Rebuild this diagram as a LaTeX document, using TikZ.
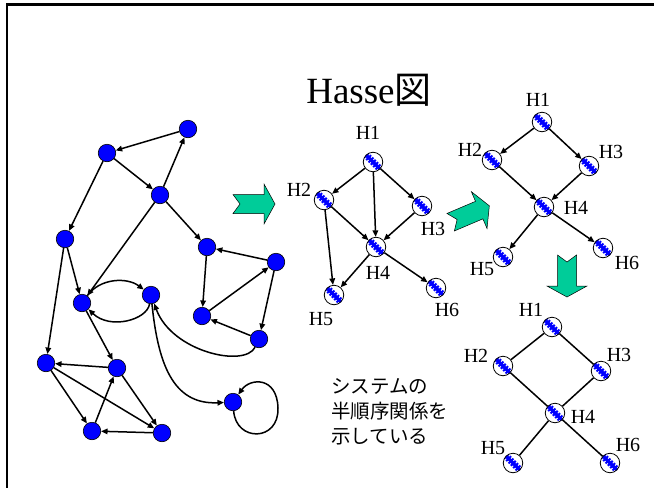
\documentclass[tikz,border=0pt]{standalone}
\usepackage{fontspec}
\setmainfont{Liberation Serif}
\newfontfamily\jpfont{Noto Sans CJK JP}
\usetikzlibrary{arrows.meta}

\definecolor{arrowgreen}{RGB}{0,204,153}

\tikzset{
  dot/.style={circle, draw=black, line width=0.6pt, fill=blue,
    minimum size=17.5pt, inner sep=0pt},
  hnode/.style={circle, draw=black, line width=0.8pt, fill=white,
    minimum size=19.5pt, inner sep=0pt,
    path picture={
      \draw[blue, line width=3.5pt]
        (path picture bounding box.north west) -- (path picture bounding box.south east);
      \draw[blue, line width=7pt, dash pattern=on 2pt off 1.3pt]
        (path picture bounding box.north west) -- (path picture bounding box.south east);
    }},
  link/.style={line width=1.5pt, -{Triangle[length=6.5pt,width=5.5pt]}},
  plain/.style={line width=1.5pt},
  hlabel/.style={font=\fontsize{20}{20}\selectfont, inner sep=0pt},
  greenarrow/.style={fill=arrowgreen, draw=black, line width=0.5pt},
  frame/.style={line width=2.5pt},
  pics/bigarrow/.style={code={
    \draw[greenarrow] (-21,-9.5) -- (10,-9.5) -- (10,-20) -- (21,0)
      -- (10,20) -- (10,9.5) -- (-21,9.5) -- (-14,0) -- cycle;
  }}
}

\begin{document}
\begin{tikzpicture}[x=1pt, y=-1pt]
\useasboundingbox (0,0) rectangle (654,488);

% frame along the top and left edges
\coordinate (ftl) at (7,4.7);
\coordinate (ftr) at (654,4.7);
\coordinate (fbl) at (7,488);
\draw[frame] (ftr) -- (ftl) -- (fbl);

% title
\node[font=\fontsize{37}{40}\selectfont, inner sep=0pt] (title) at (369,90)
  {Hasse{\jpfont 図}};

% ---- system graph ----
\node[dot] (a) at (188,129) {};
\node[dot] (b) at (107,153) {};
\node[dot] (c) at (160,195) {};
\node[dot] (d) at (65,239) {};
\node[dot] (e) at (207,247) {};
\node[dot] (f) at (276,262) {};
\node[dot] (g) at (82,303) {};
\node[dot] (h) at (151,295) {};
\node[dot] (i) at (202,316) {};
\node[dot] (j) at (259,339) {};
\node[dot] (k) at (46,363) {};
\node[dot] (l) at (117,368) {};
\node[dot] (m) at (233,402) {};
\node[dot] (n) at (92,431) {};
\node[dot] (o) at (162,433) {};

\draw[link] (a) -- (b);
\draw[link] (c) -- (a);
\draw[link] (b) -- (c);
\draw[link] (b) -- (d);
\draw[link] (c) -- (g);
\draw[link] (c) -- (e);
\draw[link] (f) -- (e);
\draw[link] (e) -- (i);
\draw[link] (i) -- (f);
\draw[link] (f) -- (j);
\draw[link] (j) -- (i);
\draw[link] (d) -- (g);
\draw[link] (d) -- (k);
\draw[link] (g) -- (l);
\draw[link] (l) -- (k);
\draw[link] (k) -- (n);
\draw[link] (k) -- (o);
\draw[link] (n) -- (l);
\draw[link] (l) -- (o);
\draw[link] (o) -- (n);
\draw[link] (g) .. controls (100,278) and (127,277) .. (h);
\draw[link] (h) .. controls (147,320) and (110,330) .. (g);
\draw[link] (j) .. controls (245,368) and (172,352) .. (h);
\draw[link] (h) .. controls (158,362) and (172,405) .. (m);
\coordinate (loopr) at (278,408);
\draw[link] (m) .. controls (236,442) and (279,442) .. (loopr)
  .. controls (277,376) and (250,378) .. (m);

% ---- green arrows ----
\pic at (254,204) {bigarrow};
\pic[rotate=23] at (470,214) {bigarrow};
\pic[rotate=-90] at (567,276) {bigarrow};

% ---- Hasse diagram with all relations ----
\node[hnode] (p1) at (373,162) {};
\node[hnode] (p2) at (324,200) {};
\node[hnode] (p3) at (422,206) {};
\node[hnode] (p4) at (376,247) {};
\node[hnode] (p5) at (334,295) {};
\node[hnode] (p6) at (436,288) {};
\node[hlabel] (lp1) at (368,133) {H1};
\node[hlabel] (lp2) at (299,190) {H2};
\node[hlabel] (lp3) at (433,229) {H3};
\node[hlabel] (lp4) at (378,273) {H4};
\node[hlabel] (lp5) at (321,319) {H5};
\node[hlabel] (lp6) at (447,310) {H6};
\draw[link] (p1) -- (p2);
\draw[link] (p1) -- (p3);
\draw[link] (p1) -- (p4);
\draw[link] (p2) -- (p4);
\draw[link] (p3) -- (p4);
\draw[link] (p2) -- (p5);
\draw[link] (p4) -- (p5);
\draw[link] (p4) -- (p6);

% ---- reduced diagram ----
\node[hnode] (q1) at (542,122) {};
\node[hnode] (q2) at (492,160) {};
\node[hnode] (q3) at (589,166) {};
\node[hnode] (q4) at (544,207) {};
\node[hnode] (q5) at (503,257) {};
\node[hnode] (q6) at (603,248) {};
\node[hlabel] (lq1) at (538,100) {H1};
\node[hlabel] (lq2) at (470,150) {H2};
\node[hlabel] (lq3) at (611,152) {H3};
\node[hlabel] (lq4) at (576,208) {H4};
\node[hlabel] (lq5) at (482,269) {H5};
\node[hlabel] (lq6) at (627,263) {H6};
\draw[link] (q1) -- (q2);
\draw[link] (q1) -- (q3);
\draw[link] (q2) -- (q4);
\draw[link] (q3) -- (q4);
\draw[link] (q4) -- (q5);
\draw[link] (q4) -- (q6);

% ---- undirected diagram ----
\node[hnode] (r1) at (552,327) {};
\node[hnode] (r2) at (503,366) {};
\node[hnode] (r3) at (601,371) {};
\node[hnode] (r4) at (555,413) {};
\node[hnode] (r5) at (513,463) {};
\node[hnode] (r6) at (610,463) {};
\node[hlabel] (lr1) at (531,310) {H1};
\node[hlabel] (lr2) at (476,356) {H2};
\node[hlabel] (lr3) at (619,355) {H3};
\node[hlabel] (lr4) at (583,417) {H4};
\node[hlabel] (lr5) at (493,448) {H5};
\node[hlabel] (lr6) at (628,445) {H6};
\draw[plain] (r1) -- (r2);
\draw[plain] (r1) -- (r3);
\draw[plain] (r2) -- (r4);
\draw[plain] (r3) -- (r4);
\draw[plain] (r4) -- (r5);
\draw[plain] (r4) -- (r6);

% caption
\node[anchor=north west, align=left, inner sep=0pt,
  font=\jpfont\fontsize{19.5}{25}\selectfont] (note) at (331,378)
  {システムの\\半順序関係を\\示している};
\end{tikzpicture}
\end{document}
